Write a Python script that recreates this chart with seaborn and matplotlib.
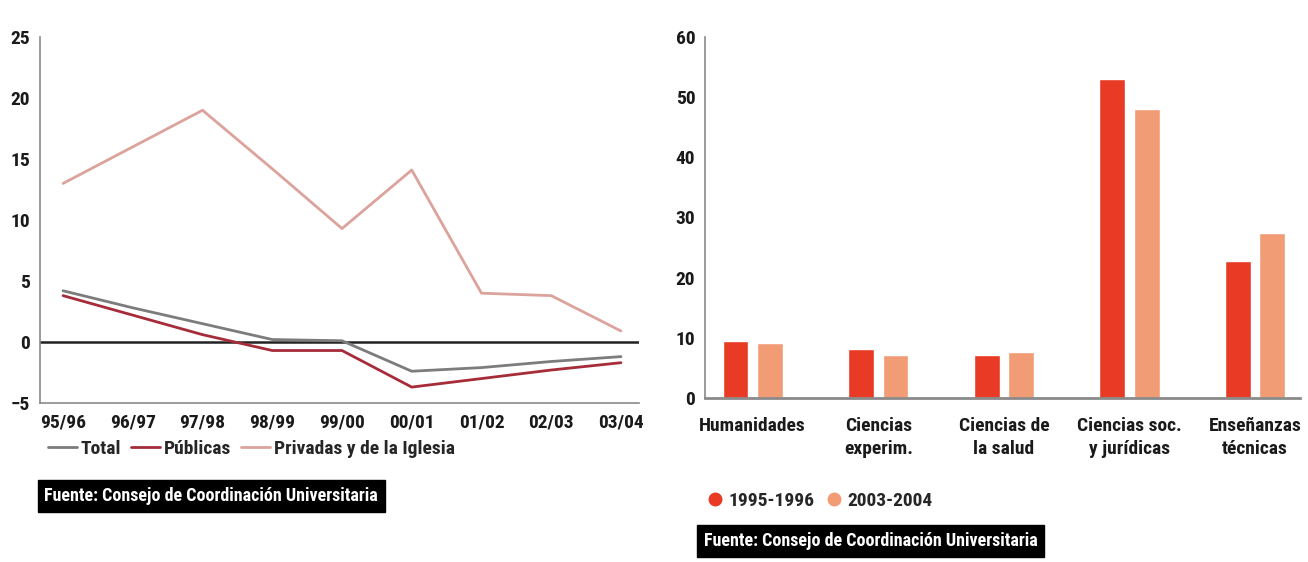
import pandas as pd
import seaborn as sns
import matplotlib.pyplot as plt
from matplotlib.lines import Line2D

# Left chart: yearly variation (%)
cursos = ['95/96', '96/97', '97/98', '98/99', '99/00', '00/01', '01/02', '02/03', '03/04']
total = [4.2, 2.8, 1.5, 0.2, 0.1, -2.4, -2.1, -1.6, -1.2]
publicas = [3.8, 2.2, 0.6, -0.7, -0.7, -3.7, -3.0, -2.3, -1.7]
privadas = [13.0, 16.0, 19.0, 14.2, 9.3, 14.1, 4.0, 3.8, 0.9]
series = ['Total', 'Públicas', 'Privadas y de la Iglesia']

# Right chart: share by branch (%)
ramas = ['Humanidades', 'Ciencias\nexperim.', 'Ciencias de\nla salud',
         'Ciencias soc.\ny jurídicas', 'Enseñanzas\ntécnicas']
periodos = ['1995-1996', '2003-2004']
v1995 = [9.5, 8.1, 7.1, 53.0, 22.8]
v2003 = [9.1, 7.1, 7.7, 48.0, 27.4]

line_colors = {'Total': '#7c7c7c', 'Públicas': '#a62c3a',
               'Privadas y de la Iglesia': '#dba39b'}
bar_colors = {'1995-1996': '#e83a24', '2003-2004': '#f29c76'}

sns.set_style('white')
plt.rcParams['font.family'] = ['Roboto Condensed', 'DejaVu Sans']
plt.rcParams['font.weight'] = 'bold'

df_lines = pd.DataFrame({
    'curso': cursos * 3,
    'valor': total + publicas + privadas,
    'serie': [s for s in series for _ in cursos],
})
df_bars = pd.DataFrame({
    'rama': ramas * 2,
    'valor': v1995 + v2003,
    'periodo': [p for p in periodos for _ in ramas],
})

fig = plt.figure(figsize=(13.08, 5.62), dpi=100)
ax1 = fig.add_axes([0.0306, 0.283, 0.458, 0.651])
ax2 = fig.add_axes([0.539, 0.292, 0.455, 0.642])

# Line chart
sns.lineplot(data=df_lines, x='curso', y='valor', hue='serie', palette=line_colors,
             sort=False, linewidth=2, legend=False, ax=ax1)
ax1.axhline(0, color='#222222', linewidth=1.8, zorder=0)
ax1.set_xlim(-0.33, 8.26)
ax1.set_ylim(-5, 25)
ax1.set_yticks([-5, 0, 5, 10, 15, 20, 25])
ax1.set_xlabel('')
ax1.set_ylabel('')

handles = [Line2D([0], [0], color=line_colors[s], lw=2) for s in series]
ax1.legend(handles, series, loc='upper left', bbox_to_anchor=(0.0, -0.08), ncol=3,
           frameon=False, fontsize=14, handlelength=1.5, handletextpad=0.2,
           columnspacing=0.5, borderaxespad=0)

# Bar chart
sns.barplot(data=df_bars, x='rama', y='valor', hue='periodo', palette=bar_colors,
            width=0.55, gap=0.25, saturation=1, legend=False, ax=ax2)
ax2.set_xlim(-0.38, 4.36)
ax2.set_ylim(0, 60)
ax2.set_yticks([0, 10, 20, 30, 40, 50, 60])
ax2.set_xlabel('')
ax2.set_ylabel('')

handles = [Line2D([0], [0], marker='o', linestyle='', markersize=9,
                  markerfacecolor=bar_colors[p], markeredgecolor=bar_colors[p]) for p in periodos]
ax2.legend(handles, periodos, loc='upper left', bbox_to_anchor=(-0.01, -0.24), ncol=2,
           frameon=False, fontsize=14, handlelength=0.8, handletextpad=0.3,
           columnspacing=0.6, borderaxespad=0)

for ax in (ax1, ax2):
    sns.despine(ax=ax)
    for side in ('left', 'bottom'):
        ax.spines[side].set_color('#8a8a8a')
        ax.spines[side].set_linewidth(1.2)
    ax.tick_params(axis='y', length=4, width=1, color='#8a8a8a', labelsize=14, pad=3)
    ax.tick_params(axis='x', length=9, width=1, color='#8a8a8a', labelsize=14, pad=3)
    ax.tick_params(axis='x', direction='inout')
    for lab in ax.get_xticklabels() + ax.get_yticklabels():
        lab.set_fontweight('bold')
        lab.set_color('#1a1a1a')
ax2.tick_params(axis='x', pad=9)
for lab in ax2.get_xticklabels():
    lab.set_linespacing(1.4)
ax2.spines['bottom'].set_linewidth(2)

# Source boxes
fig.text(0.034, 0.118, 'Fuente: Consejo de Coordinación Universitaria', color='white',
         fontsize=13, fontweight='bold', va='center',
         bbox=dict(facecolor='black', edgecolor='black', pad=5))
fig.text(0.538, 0.038, 'Fuente: Consejo de Coordinación Universitaria', color='white',
         fontsize=13, fontweight='bold', va='center',
         bbox=dict(facecolor='black', edgecolor='black', pad=5))

fig.savefig('out.png', dpi=100)
